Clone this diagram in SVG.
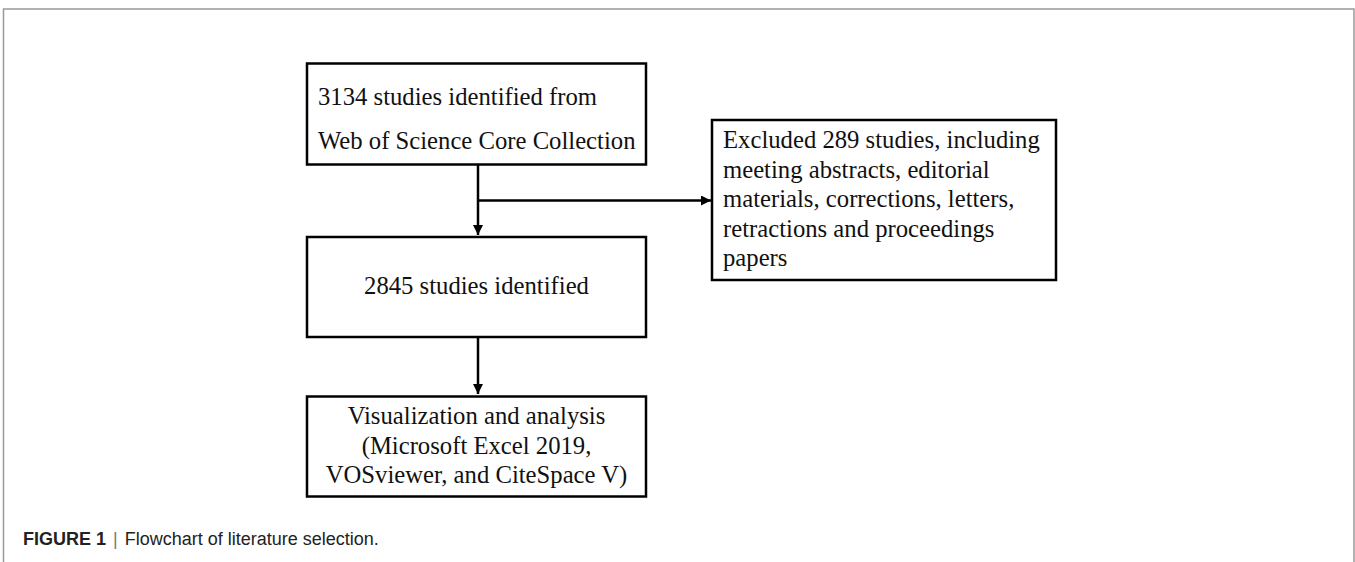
<svg xmlns="http://www.w3.org/2000/svg" width="1355" height="562" viewBox="0 0 1355 562">
<style>
.box{fill:#fff;stroke:#000;stroke-width:2.5}
.t{font-family:"Liberation Serif","Times New Roman",serif;font-size:24.7px;fill:#111}
.c{text-anchor:middle}
.conn{stroke:#000;stroke-width:2.5;fill:none}
.cap{font-family:"Liberation Sans",Arial,sans-serif;font-size:18px;fill:#222}
</style>
<defs>
<marker id="arr" viewBox="0 0 10 10" refX="10" refY="5" markerWidth="4" markerHeight="4" orient="auto" markerUnits="strokeWidth">
<path d="M0,0 L10,5 L0,10 z" fill="#000"/>
</marker>
</defs>
<rect x="0" y="0" width="1355" height="562" fill="#fff"/>
<path d="M3.5,562 V9 H1354 V562" fill="none" stroke="#999" stroke-width="1.5"/>
<g id="connectors">
<path class="conn" d="M478,165 V235" marker-end="url(#arr)"/>
<path class="conn" d="M478,200.5 H711" marker-end="url(#arr)"/>
<path class="conn" d="M478,338 V394" marker-end="url(#arr)"/>
</g>
<g id="n1">
<rect class="box" x="307" y="63.5" width="339" height="101"/>
<text class="t" x="318" y="105">3134 studies identified from</text>
<text class="t" x="318" y="149">Web of Science Core Collection</text>
</g>
<g id="n2">
<rect class="box" x="307" y="237" width="339" height="100"/>
<text class="t c" x="476.5" y="294">2845 studies identified</text>
</g>
<g id="n3">
<rect class="box" x="307" y="396.5" width="339" height="100"/>
<text class="t c" x="476.5" y="424">Visualization and analysis</text>
<text class="t c" x="476.5" y="454">(Microsoft Excel 2019,</text>
<text class="t c" x="476.5" y="483">VOSviewer, and CiteSpace V)</text>
</g>
<g id="n4">
<rect class="box" x="712" y="120" width="344" height="160"/>
<text class="t" x="723" y="148">Excluded 289 studies, including</text>
<text class="t" x="723" y="178">meeting abstracts, editorial</text>
<text class="t" x="723" y="207">materials, corrections, letters,</text>
<text class="t" x="723" y="237">retractions and proceedings</text>
<text class="t" x="723" y="266">papers</text>
</g>
<text class="cap" x="23" y="545"><tspan font-weight="bold">FIGURE 1</tspan><tspan fill="#777" dx="7">|</tspan><tspan dx="7">Flowchart of literature selection.</tspan></text>
</svg>
